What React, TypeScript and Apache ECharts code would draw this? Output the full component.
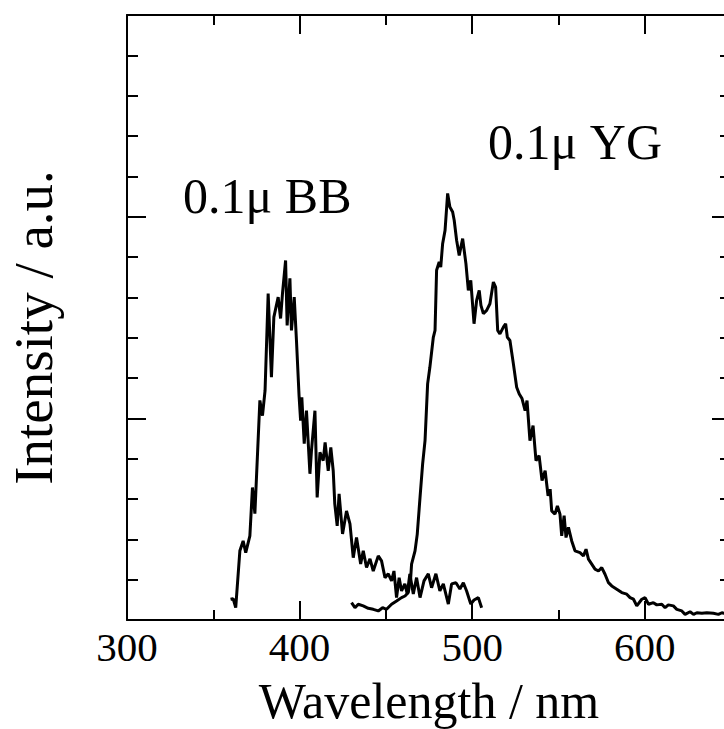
import React, { useEffect, useRef } from "react";
import * as echarts from "echarts";

// 0.1μ BB emission spectrum
const bbWavelength = [360.0, 361.5, 363.0, 365.4, 367.3, 368.8, 371.2, 372.7, 374.1, 377.0, 378.5, 380.0, 381.8, 383.7, 385.1, 387.6, 389.0, 390.1, 391.9, 392.8, 394.4, 395.3, 396.9, 398.2, 399.7, 400.6, 401.3, 402.7, 404.0, 406.0, 406.9, 408.9, 410.2, 411.8, 413.7, 414.8, 416.6, 418.1, 419.5, 420.4, 421.8, 422.9, 424.9, 427.2, 429.2, 431.1, 433.0, 435.4, 436.9, 438.8, 440.8, 442.7, 445.6, 447.5, 449.5, 451.4, 453.3, 454.7, 456.2, 457.7, 459.1, 461.0, 462.4, 463.9, 465.9, 467.8, 469.8, 472.1, 474.6, 476.5, 479.0, 481.3, 483.3, 486.2, 488.1, 490.6, 492.9, 494.9, 496.8, 499.2, 501.1, 503.6, 505.5];
const bbIntensity = [0.103, 0.106, 0.061, 0.343, 0.392, 0.334, 0.417, 0.657, 0.527, 1.089, 1.013, 1.138, 1.619, 1.204, 1.502, 1.601, 1.495, 1.619, 1.783, 1.461, 1.694, 1.436, 1.601, 1.386, 1.113, 0.989, 1.104, 0.874, 1.038, 0.725, 0.840, 1.038, 0.608, 0.831, 0.790, 0.881, 0.740, 0.856, 0.740, 0.576, 0.467, 0.626, 0.427, 0.541, 0.477, 0.309, 0.409, 0.278, 0.343, 0.260, 0.303, 0.243, 0.318, 0.293, 0.210, 0.229, 0.194, 0.243, 0.111, 0.210, 0.144, 0.179, 0.129, 0.229, 0.129, 0.210, 0.111, 0.194, 0.229, 0.160, 0.229, 0.144, 0.179, 0.079, 0.179, 0.185, 0.154, 0.185, 0.144, 0.079, 0.099, 0.111, 0.061];

// 0.1μ YG emission spectrum
const ygWavelength = [430.1, 432.1, 434.0, 436.9, 439.8, 442.7, 445.6, 448.1, 450.4, 453.3, 456.2, 459.1, 461.1, 463.0, 464.4, 464.9, 466.9, 468.2, 469.8, 471.3, 472.7, 474.2, 475.5, 477.5, 478.5, 479.4, 480.9, 481.8, 482.9, 484.3, 485.8, 487.1, 488.7, 489.6, 491.0, 492.5, 494.5, 496.4, 497.8, 499.2, 501.1, 502.6, 504.1, 505.1, 506.5, 508.4, 510.3, 512.3, 513.6, 514.8, 516.1, 518.1, 519.4, 520.4, 521.9, 523.9, 525.8, 527.3, 528.9, 530.7, 531.8, 533.5, 535.3, 537.0, 538.8, 540.5, 542.3, 544.0, 545.2, 546.1, 548.0, 549.4, 550.9, 551.9, 553.3, 554.4, 555.8, 557.7, 559.6, 562.5, 564.5, 566.0, 567.4, 569.3, 571.2, 573.2, 575.1, 577.0, 579.0, 580.9, 583.8, 586.7, 589.6, 591.5, 593.5, 595.4, 598.3, 600.2, 602.2, 605.0, 607.0, 609.9, 611.8, 613.7, 616.6, 618.6, 621.5, 623.4, 626.3, 628.3, 630.2, 633.1, 636.0, 639.8, 642.7, 644.7, 646.0, 647.8, 649.5];
const ygIntensity = [0.086, 0.061, 0.078, 0.070, 0.058, 0.053, 0.045, 0.061, 0.053, 0.078, 0.094, 0.111, 0.119, 0.136, 0.210, 0.277, 0.343, 0.426, 0.608, 0.773, 0.889, 1.171, 1.253, 1.402, 1.436, 1.734, 1.775, 1.750, 1.866, 1.932, 2.115, 2.048, 2.023, 1.982, 1.883, 1.808, 1.891, 1.767, 1.634, 1.684, 1.469, 1.585, 1.634, 1.560, 1.519, 1.535, 1.568, 1.676, 1.651, 1.436, 1.419, 1.452, 1.469, 1.402, 1.386, 1.270, 1.154, 1.121, 1.098, 1.038, 1.088, 0.889, 0.964, 0.790, 0.815, 0.691, 0.740, 0.616, 0.649, 0.541, 0.525, 0.566, 0.525, 0.417, 0.517, 0.409, 0.459, 0.392, 0.343, 0.334, 0.318, 0.351, 0.302, 0.277, 0.252, 0.243, 0.260, 0.227, 0.185, 0.169, 0.153, 0.136, 0.128, 0.111, 0.103, 0.070, 0.103, 0.111, 0.078, 0.086, 0.075, 0.078, 0.061, 0.075, 0.070, 0.053, 0.045, 0.028, 0.041, 0.028, 0.036, 0.033, 0.036, 0.033, 0.028, 0.036, 0.033, 0.035, 0.030];

const xMin = 300;
const xMax = 650;
const xMajor = 100;
const xMinor = 50;
const yMin = 0;
const yMax = 3;
const yMajor = 1;

const labelBB = "0.1μ BB";
const labelYG = "0.1μ YG";
const xTitle = "Wavelength / nm";
const yTitle = "Intensity / a.u.";

const FONT = "'Liberation Serif', 'Times New Roman', serif";
const BLACK = "#000";

function zip(xs: number[], ys: number[]) {
  return xs.map((x, i) => [x, ys[i]]);
}

export default function App() {
  const ref = useRef<HTMLDivElement>(null);
  useEffect(() => {
    if (!ref.current) return;
    const chart = echarts.init(ref.current, null, { renderer: "svg" });
    const tickLine = { color: BLACK, width: 2 };
    const baseX = {
      type: "value" as const,
      min: xMin,
      max: xMax,
      splitLine: { show: false },
    };
    const baseY = {
      type: "value" as const,
      min: yMin,
      max: yMax,
      interval: yMajor,
      splitLine: { show: false },
      axisLine: { show: true, lineStyle: tickLine },
      axisTick: { show: true, inside: true, length: 19, lineStyle: tickLine },
      minorTick: { show: true, splitNumber: 5, length: 11, lineStyle: tickLine },
      minorSplitLine: { show: false },
      axisLabel: { show: false },
    };
    chart.setOption({
      animation: false,
      backgroundColor: "#fff",
      grid: {
        left: 127,
        top: 15,
        width: 604,
        height: 605,
        containLabel: false,
        outerBoundsMode: "none",
      },
      xAxis: [
        {
          ...baseX,
          position: "bottom",
          interval: xMinor,
          axisLine: { show: true, onZero: false, lineStyle: tickLine },
          axisTick: { show: true, inside: true, length: 10, lineStyle: tickLine },
          axisLabel: {
            show: true,
            margin: 6,
            fontSize: 41,
            fontFamily: FONT,
            color: BLACK,
            formatter: (v: number) => (v % xMajor === 0 && v < xMax ? String(v) : ""),
          },
          name: xTitle,
          nameLocation: "middle",
          nameGap: 56,
          nameTextStyle: { fontSize: 50, fontFamily: FONT, color: BLACK },
        },
        {
          ...baseX,
          position: "bottom",
          interval: xMajor,
          axisLine: { show: false, onZero: false },
          axisTick: { show: true, inside: true, length: 19, lineStyle: tickLine },
          axisLabel: { show: false },
        },
        {
          ...baseX,
          position: "top",
          interval: xMinor,
          axisLine: { show: true, onZero: false, lineStyle: tickLine },
          axisTick: { show: true, inside: true, length: 10, lineStyle: tickLine },
          axisLabel: { show: false },
        },
        {
          ...baseX,
          position: "top",
          interval: xMajor,
          axisLine: { show: false, onZero: false },
          axisTick: { show: true, inside: true, length: 19, lineStyle: tickLine },
          axisLabel: { show: false },
        },
      ],
      yAxis: [
        {
          ...baseY,
          position: "left",
          name: yTitle,
          nameLocation: "middle",
          nameRotate: 90,
          nameGap: 66,
          nameTextStyle: { fontSize: 55, fontFamily: FONT, color: BLACK, padding: [0, 20, 0, 0] },
        },
        {
          ...baseY,
          position: "right",
        },
      ],
      series: [
        {
          name: labelBB,
          type: "line",
          xAxisIndex: 0,
          yAxisIndex: 0,
          data: zip(bbWavelength, bbIntensity),
          showSymbol: false,
          symbol: "none",
          lineStyle: { color: BLACK, width: 3 },
          clip: true,
        },
        {
          name: labelYG,
          type: "line",
          xAxisIndex: 0,
          yAxisIndex: 0,
          data: zip(ygWavelength, ygIntensity),
          showSymbol: false,
          symbol: "none",
          lineStyle: { color: BLACK, width: 3 },
          clip: true,
        },
      ],
      graphic: [
        {
          type: "text",
          left: 183,
          top: 171,
          style: { text: labelBB, fontSize: 50, fontFamily: FONT, fill: BLACK },
        },
        {
          type: "text",
          left: 488,
          top: 117,
          style: { text: labelYG, fontSize: 50, fontFamily: FONT, fill: BLACK },
        },
      ],
    });
    return () => chart.dispose();
  }, []);
  return (
    <div
      ref={ref}
      style={{ position: "absolute", left: 0, top: 0, width: 724, height: 729, overflow: "hidden" }}
    />
  );
}
